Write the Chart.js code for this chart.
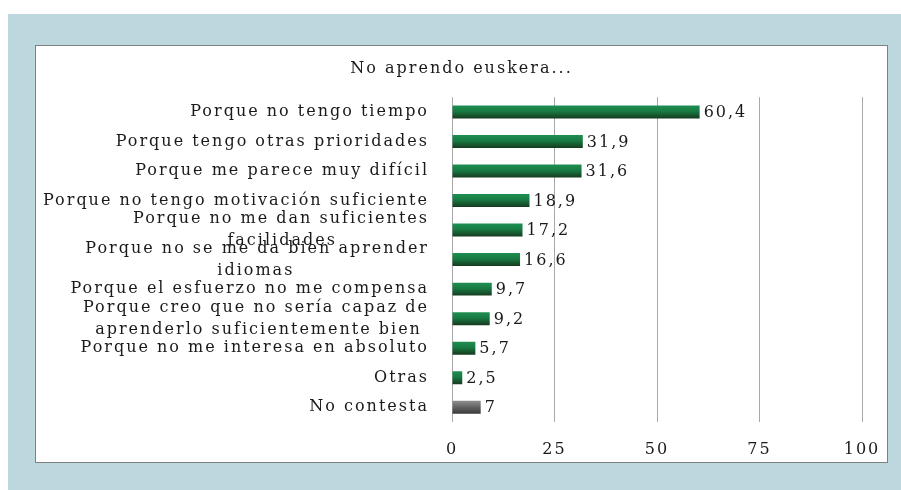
<!DOCTYPE html>
<html>
<head>
<meta charset="utf-8">
<script src="https://cdn.jsdelivr.net/npm/chart.js@4.4.1/dist/chart.umd.min.js"></script>
<style>
	body { margin: 0; background: #fff; width: 901px; height: 490px; overflow: hidden; position: relative; }
	#fondo { position: absolute; left: 8px; top: 14px; right: 0; bottom: 0; background: #bcd8de; }
	#caja { position: absolute; left: 35px; top: 45px; width: 851px; height: 416px; background: #fff; border: 1px solid #808080; }
	#mycanvas { position: absolute; left: 0; top: 0; }
</style>
</head>
<body>
<div id="fondo"></div>
<div id="caja"><canvas id="mycanvas" width="851" height="416"></canvas></div>
<script>
var motivos = [
	["Porque no tengo tiempo"],
	["Porque tengo otras prioridades"],
	["Porque me parece muy difícil"],
	["Porque no tengo motivación suficiente"],
	["Porque no me dan suficientes", "facilidades"],
	["Porque no se me da bien aprender", "idiomas"],
	["Porque el esfuerzo no me compensa"],
	["Porque creo que no sería capaz de", "aprenderlo suficientemente bien"],
	["Porque no me interesa en absoluto"],
	["Otras"],
	["No contesta"]
];
var porcentajes = [60.4, 31.9, 31.6, 18.9, 17.2, 16.6, 9.7, 9.2, 5.7, 2.5, 7];
var ticksX = [0, 25, 50, 75, 100];

var fuente = "'DejaVu Serif', serif";
var tam = 16;
var espaciado = "2px";

// centrar las lineas de cada etiqueta (a la derecha se alinea el bloque)
var medidor = document.createElement("canvas").getContext("2d");
medidor.font = tam + "px " + fuente;
medidor.letterSpacing = espaciado;
var espacio = medidor.measureText(" ").width;
var etiquetas = motivos.map(function(lineas) {
	if (lineas.length == 1) return lineas[0];
	var anchos = lineas.map(function(l) { return medidor.measureText(l).width; });
	var max = Math.max.apply(null, anchos);
	return lineas.map(function(l, i) {
		var n = Math.round((max - anchos[i]) / 2 / espacio);
		return l + " ".repeat(n);
	});
});

function relleno(c) {
	var chart = c.chart;
	var y = chart.scales.y;
	var gris = c.dataIndex == porcentajes.length - 1;
	var centro = y ? y.getPixelForValue(c.dataIndex) : NaN;
	if (!isFinite(centro)) return gris ? "#5a5a5a" : "#1a6b3a";
	var alto = 13;
	var g = chart.ctx.createLinearGradient(0, centro - alto / 2, 0, centro + alto / 2);
	if (gris) {
		g.addColorStop(0, "#8e8e8e");
		g.addColorStop(1, "#383838");
	} else {
		g.addColorStop(0, "#1f8f52");
		g.addColorStop(0.45, "#187a42");
		g.addColorStop(1, "#163a1f");
	}
	return g;
}

// el texto de la fuente original es muy ancho
var letras = {
	id: "letras",
	beforeUpdate: function(chart) { chart.ctx.letterSpacing = espaciado; },
	beforeDraw: function(chart) { chart.ctx.letterSpacing = espaciado; }
};

var valores = {
	id: "valores",
	afterDatasetsDraw: function(chart) {
		var ctx = chart.ctx;
		var meta = chart.getDatasetMeta(0);
		ctx.save();
		ctx.letterSpacing = espaciado;
		ctx.font = tam + "px " + fuente;
		ctx.fillStyle = "#1a1a1a";
		ctx.textBaseline = "middle";
		ctx.textAlign = "left";
		meta.data.forEach(function(bar, i) {
			ctx.fillText(String(porcentajes[i]).replace(".", ","), bar.x + 4, bar.y + 1);
		});
		ctx.restore();
	}
};

var chartdata = {
	labels: etiquetas,
	datasets: [
		{
			label: "No aprendo euskera...",
			data: porcentajes,
			backgroundColor: relleno,
			borderWidth: 0,
			categoryPercentage: 1,
			barPercentage: 0.44
		}
	]
};

var ctx = document.getElementById("mycanvas");

var grafico = new Chart(ctx, {
	type: "bar",
	data: chartdata,
	plugins: [letras, valores],
	options: {
		indexAxis: "y",
		responsive: false,
		animation: false,
		layout: { padding: { left: 0, right: 0, top: 0, bottom: 4 } },
		plugins: {
			legend: { display: false },
			tooltip: { enabled: false },
			title: {
				display: true,
				text: "No aprendo euskera...",
				color: "#1a1a1a",
				font: { family: fuente, size: tam, weight: "normal" },
				padding: { top: 13, bottom: 19 }
			}
		},
		scales: {
			x: {
				min: 0,
				max: 100,
				afterBuildTicks: function(axis) {
					axis.ticks = ticksX.map(function(v) { return { value: v }; });
				},
				afterFit: function(axis) {
					axis.height = 36;
					axis.paddingRight = 25;
				},
				grid: { color: "#a8a8a8", drawTicks: false },
				border: { display: false },
				ticks: {
					color: "#1a1a1a",
					padding: 18,
					font: { family: fuente, size: tam }
				}
			},
			y: {
				afterFit: function(axis) { axis.width = 416; },
				grid: { display: false },
				border: { display: false },
				ticks: {
					color: "#1a1a1a",
					padding: 15,
					autoSkip: false,
					font: { family: fuente, size: tam, lineHeight: 1.35 }
				}
			}
		}
	}
});
</script>
</body>
</html>
